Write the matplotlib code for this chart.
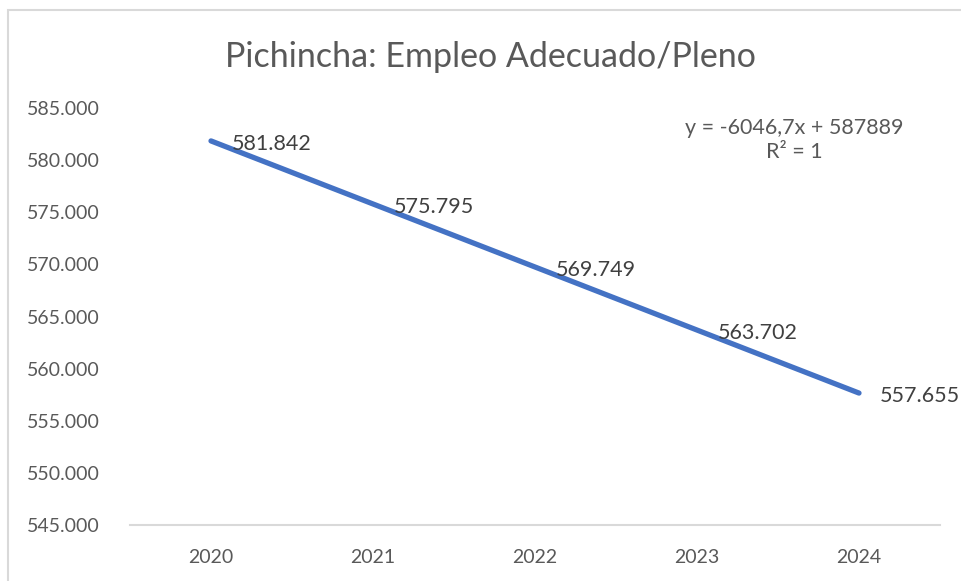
import matplotlib
matplotlib.use("Agg")
import matplotlib.pyplot as plt
from matplotlib.patches import Rectangle

# data
years = ["2020", "2021", "2022", "2023", "2024"]
empleo = [581842, 575795, 569749, 563702, 557655]
labels = ["581.842", "575.795", "569.749", "563.702", "557.655"]
yticks = [545000, 550000, 555000, 560000, 565000, 570000, 575000, 580000, 585000]

W, H = 961, 581
fig = plt.figure(figsize=(W / 100, H / 100), dpi=100)
plt.rcParams['font.family'] = ['Lato', 'DejaVu Sans']

# chart border (Excel style, cut off at right/bottom)
fig.patches.append(Rectangle((8 / W, -0.05), 1.2, (H - 10) / H + 0.05, transform=fig.transFigure,
                             fill=False, edgecolor="#d9d9d9", linewidth=1.5))

ax = fig.add_axes([130 / W, (H - 525) / H, (940 - 130) / W, (525 - 108) / H])
x = list(range(len(years)))
ax.plot(x, empleo, color="#4472C4", linewidth=3.8, solid_capstyle="round")

for xi, yi, lab in zip(x, empleo, labels):
    ax.annotate(lab, (xi, yi), xytext=(15, -2), textcoords="offset points",
                ha="left", va="center", fontsize=15.5, color="#404040")

ax.set_xlim(-0.5, len(years) - 0.5)
ax.set_ylim(545000, 585000)
ax.set_xticks(x)
ax.set_xticklabels(years)
ax.set_yticks(yticks)
ax.set_yticklabels([f"{v:,}".replace(",", ".") for v in yticks])
ax.tick_params(axis="both", length=0, labelsize=14, labelcolor="#595959")
ax.tick_params(axis="y", pad=22)
ax.tick_params(axis="x", pad=17)
for s in ["top", "right", "left"]:
    ax.spines[s].set_visible(False)
ax.spines["bottom"].set_color("#d9d9d9")
ax.spines["bottom"].set_linewidth(1.5)

ax.text(0.82, 0.975, "y = -6046,7x + 587889\nR² = 1", transform=ax.transAxes,
        ha="center", va="top", fontsize=15.5, color="#595959", linespacing=1.2)

fig.text(490 / W, 1 - 57 / H, "Pichincha: Empleo Adecuado/Pleno", ha="center", va="center",
         fontsize=24.5, color="#595959")

fig.savefig("out.png", dpi=100)
